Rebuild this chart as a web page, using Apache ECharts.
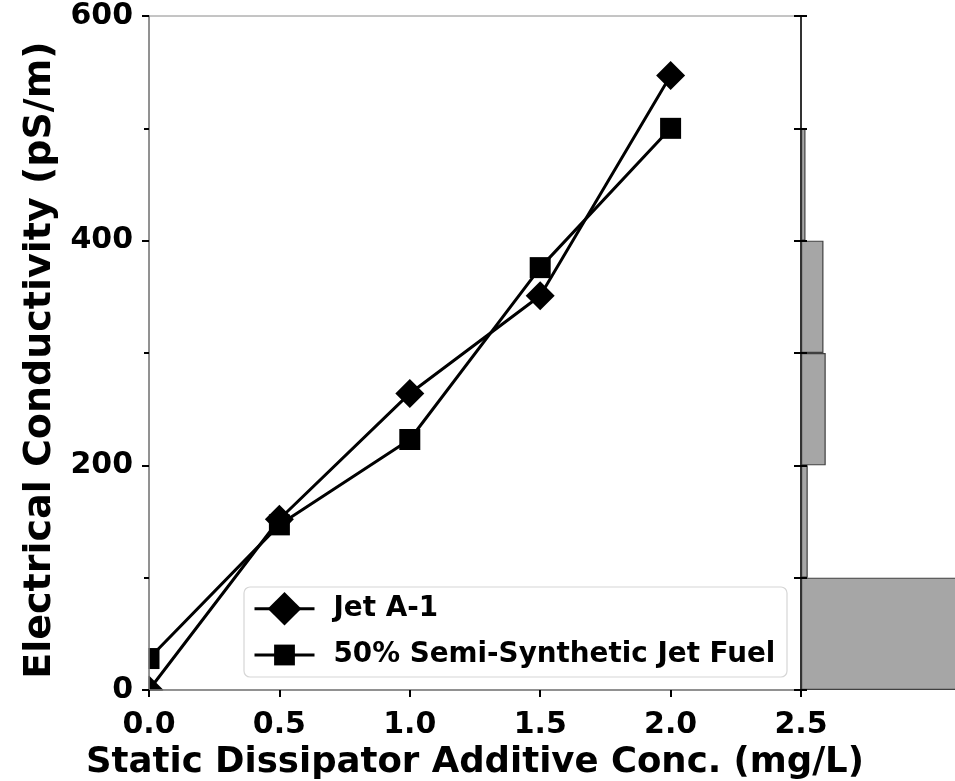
<!DOCTYPE html>
<html>
<head>
<meta charset="utf-8">
<script src="https://cdn.jsdelivr.net/npm/echarts@6/dist/echarts.min.js"></script>
<style>
html,body{margin:0;padding:0;background:#fff;}
#chart{width:955px;height:781px;}
</style>
</head>
<body>
<div id="chart"></div>
<script>
// ---- data ----
const xValues = [0, 0.5, 1.0, 1.5, 2.0];
const jetA1 = [0, 152, 264, 351, 547];
const semiSynthetic = [28, 147, 223, 376, 500];
const seriesNames = ['Jet A-1', '50% Semi-Synthetic Jet Fuel'];
const yMinorTicks = [100, 300, 500];
const histBins = ['0-100', '100-200', '200-300', '300-400', '400-500', '500-600'];
const histCounts = [90, 3, 11, 10, 2, 0];
const xTitle = 'Static Dissipator Additive Conc. (mg/L)';
const yTitle = 'Electrical Conductivity (pS/m)';

const FONT = 'DejaVu Sans';
const chart = echarts.init(document.getElementById('chart'));

const pairs = (ys) => xValues.map((x, i) => [x, ys[i]]);
const grid0 = { left: 149, top: 16, width: 652, height: 674 };

const option = {
  animation: false,
  backgroundColor: '#ffffff',
  grid: [
    Object.assign({ show: true, borderColor: '#8a8a8a', borderWidth: 1, backgroundColor: 'transparent',
      containLabel: false, outerBoundsMode: 'none' }, grid0),
    { left: 801, top: 16, width: 400, height: 674, containLabel: false, outerBoundsMode: 'none' }
  ],
  xAxis: [
    {
      type: 'value', gridIndex: 0, min: 0, max: 2.5, interval: 0.5, z: 10,
      axisLine: { show: true, onZero: false, lineStyle: { color: '#808080', width: 1.5 } },
      axisTick: { show: true, length: 7, lineStyle: { color: '#000', width: 2 } },
      splitLine: { show: false },
      axisLabel: { margin: 20, color: '#000', fontFamily: FONT, fontWeight: 'bold', fontSize: 30,
        formatter: (v) => v.toFixed(1) },
      name: xTitle, nameLocation: 'middle', nameGap: 49,
      nameTextStyle: { color: '#000', fontFamily: FONT, fontWeight: 'bold', fontSize: 35.5 }
    },
    {
      type: 'value', gridIndex: 0, min: 0, max: 2.5, interval: 0.5, z: 10,
      axisLine: { show: false },
      axisTick: { show: true, inside: true, length: 5, lineStyle: { color: '#000', width: 2 } },
      splitLine: { show: false },
      axisLabel: { show: false }
    },
    {
      type: 'value', gridIndex: 1, min: 0, max: 178, show: false
    }
  ],
  yAxis: [
    {
      type: 'value', gridIndex: 0, min: 0, max: 600, interval: 200, z: 10,
      axisLine: { show: true, onZero: false, lineStyle: { color: '#808080', width: 1.5 } },
      axisTick: { show: true, length: 7, lineStyle: { color: '#000', width: 2 } },
      splitLine: { show: false },
      axisLabel: { margin: 16, color: '#000', fontFamily: FONT, fontWeight: 'bold', fontSize: 30 },
      name: yTitle, nameLocation: 'middle', nameGap: 82,
      nameTextStyle: { color: '#000', fontFamily: FONT, fontWeight: 'bold', fontSize: 38, padding: [0, 14, 0, 0] }
    },
    {
      type: 'value', gridIndex: 0, min: 0, max: 600, interval: 100, z: 10,
      axisLine: { show: false },
      axisTick: { show: true, inside: true, length: 5, customValues: yMinorTicks, lineStyle: { color: '#000', width: 2 } },
      splitLine: { show: false },
      axisLabel: { show: false }
    },
    {
      type: 'category', gridIndex: 1, data: histBins, position: 'left', z: 10,
      axisLine: { show: true, lineStyle: { color: '#333', width: 2 } },
      axisTick: { show: true, length: 7, lineStyle: { color: '#000', width: 2 } },
      axisLabel: { show: false }, splitLine: { show: false }
    },
    {
      type: 'category', gridIndex: 1, data: histBins, position: 'left', z: 10,
      axisLine: { show: false },
      axisTick: { show: true, inside: true, length: 6, lineStyle: { color: '#000', width: 2 } },
      axisLabel: { show: false }, splitLine: { show: false }
    }
  ],
  legend: [
    {
      data: [seriesNames[0]], left: 253, top: 592, padding: 0, itemWidth: 60, itemHeight: 42,
      selectedMode: false, z: 8, lineStyle: { width: 3 },
      textStyle: { color: '#000', fontFamily: FONT, fontWeight: 'bold', fontSize: 27.8, padding: [0, 0, 0, 14] }
    },
    {
      data: [seriesNames[1]], left: 253, top: 641, padding: 0, itemWidth: 60, itemHeight: 26,
      selectedMode: false, z: 8, lineStyle: { width: 3 },
      textStyle: { color: '#000', fontFamily: FONT, fontWeight: 'bold', fontSize: 27.8, padding: [0, 0, 0, 14] }
    }
  ],
  graphic: [
    { type: 'rect', z: 5, silent: true, shape: { x: 0, y: 620, width: 148.5, height: 90 }, style: { fill: '#fff' } },
    { type: 'rect', z: 5, silent: true, shape: { x: 120, y: 690.8, width: 80, height: 20 }, style: { fill: '#fff' } },
    { type: 'rect', z: 6, silent: true, shape: { x: 244, y: 587, width: 543, height: 90, r: 6 },
      style: { fill: 'rgba(255,255,255,0.85)', stroke: '#d6d6d6', lineWidth: 1.2 } }
  ],
  series: [
    {
      name: seriesNames[0], type: 'line', xAxisIndex: 0, yAxisIndex: 0, data: pairs(jetA1),
      symbol: 'diamond', symbolSize: 29, color: '#000', z: 2,
      itemStyle: { color: '#000' }, lineStyle: { color: '#000', width: 3 }
    },
    {
      name: seriesNames[1], type: 'line', xAxisIndex: 0, yAxisIndex: 0, data: pairs(semiSynthetic),
      symbol: 'rect', symbolSize: 21, color: '#000', z: 2,
      itemStyle: { color: '#000' }, lineStyle: { color: '#000', width: 3 }
    },
    {
      name: 'hist', type: 'bar', xAxisIndex: 2, yAxisIndex: 2, data: histCounts,
      barCategoryGap: '0%', z: 2,
      itemStyle: { color: '#a6a6a6', borderColor: '#404040', borderWidth: 1.2 }
    }
  ]
};
chart.setOption(option);
</script>
</body>
</html>
